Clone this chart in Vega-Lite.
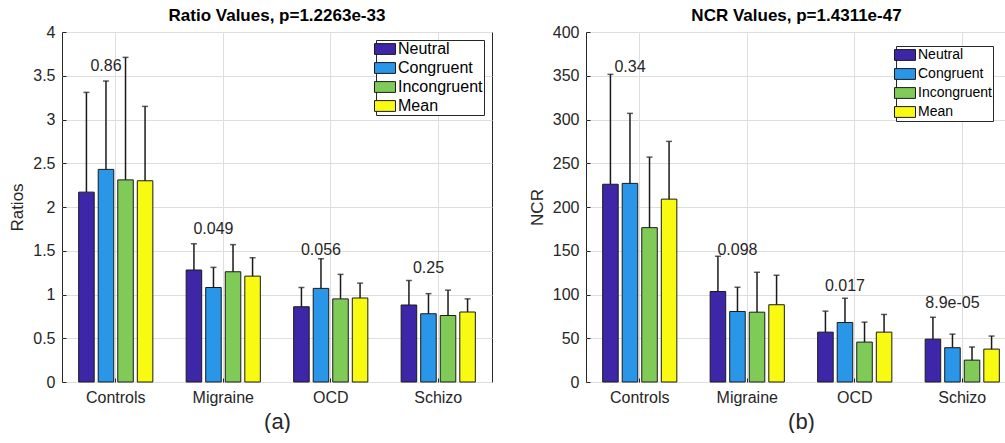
{
  "$schema": "https://vega.github.io/schema/vega-lite/v6.json",
  "padding": {"left": 8, "top": 6, "right": 0, "bottom": 0},
  "spacing": 34,
  "config": {
    "font": "Liberation Sans",
    "view": {"stroke": "#262626", "strokeWidth": 1},
    "axis": {
      "labelFontSize": 16,
      "labelColor": "#262626",
      "titleFontSize": 17,
      "titleFontWeight": "normal",
      "titleColor": "#262626",
      "gridColor": "#dedede",
      "gridWidth": 1,
      "domain": false,
      "tickColor": "#262626",
      "tickSize": -4,
      "labelPadding": 11
    },
    "title": {"fontSize": 17, "fontWeight": "bold", "color": "#000000", "offset": -1, "anchor": "middle", "frame": "group"},
    "legend": {
      "orient": "top-right",
      "title": null,
      "fillColor": "#ffffff",
      "strokeColor": "#262626",
      "padding": 1,
      "labelFontSize": 16,
      "labelColor": "#000000",
      "labelOffset": 5,
      "rowPadding": 3,
      "symbolType": "M-1.4,-0.72H1.4V0.72H-1.4Z",
      "symbolSize": 225,
      "symbolStrokeColor": "#1a1a1a",
      "symbolStrokeWidth": 1,
      "symbolOpacity": 1
    }
  },
  "resolve": {"scale": {"color": "independent", "x": "independent", "y": "independent", "xOffset": "independent"}, "legend": {"color": "independent"}},
  "datasets": {
    "ratio": [
      {"group": "Controls", "cond": "Neutral", "value": 2.17, "upper": 3.31},
      {"group": "Controls", "cond": "Congruent", "value": 2.43, "upper": 3.44},
      {"group": "Controls", "cond": "Incongruent", "value": 2.31, "upper": 3.71},
      {"group": "Controls", "cond": "Mean", "value": 2.3, "upper": 3.15},
      {"group": "Migraine", "cond": "Neutral", "value": 1.28, "upper": 1.58},
      {"group": "Migraine", "cond": "Congruent", "value": 1.08, "upper": 1.31},
      {"group": "Migraine", "cond": "Incongruent", "value": 1.26, "upper": 1.57},
      {"group": "Migraine", "cond": "Mean", "value": 1.21, "upper": 1.42},
      {"group": "OCD", "cond": "Neutral", "value": 0.86, "upper": 1.08},
      {"group": "OCD", "cond": "Congruent", "value": 1.07, "upper": 1.41},
      {"group": "OCD", "cond": "Incongruent", "value": 0.95, "upper": 1.23},
      {"group": "OCD", "cond": "Mean", "value": 0.96, "upper": 1.13},
      {"group": "Schizo", "cond": "Neutral", "value": 0.88, "upper": 1.16},
      {"group": "Schizo", "cond": "Congruent", "value": 0.78, "upper": 1.01},
      {"group": "Schizo", "cond": "Incongruent", "value": 0.76, "upper": 1.05},
      {"group": "Schizo", "cond": "Mean", "value": 0.8, "upper": 0.95}
    ],
    "ratioP": [
      {"group": "Controls", "p": "0.86", "ypos": 3.61},
      {"group": "Migraine", "p": "0.049", "ypos": 1.75},
      {"group": "OCD", "p": "0.056", "ypos": 1.51},
      {"group": "Schizo", "p": "0.25", "ypos": 1.3}
    ],
    "ncr": [
      {"group": "Controls", "cond": "Neutral", "value": 226, "upper": 351.6},
      {"group": "Controls", "cond": "Congruent", "value": 227, "upper": 307},
      {"group": "Controls", "cond": "Incongruent", "value": 176.4, "upper": 257},
      {"group": "Controls", "cond": "Mean", "value": 209, "upper": 275},
      {"group": "Migraine", "cond": "Neutral", "value": 103.4, "upper": 143.7},
      {"group": "Migraine", "cond": "Congruent", "value": 80.6, "upper": 108.3},
      {"group": "Migraine", "cond": "Incongruent", "value": 79.8, "upper": 125.4},
      {"group": "Migraine", "cond": "Mean", "value": 88.3, "upper": 122},
      {"group": "OCD", "cond": "Neutral", "value": 57, "upper": 81},
      {"group": "OCD", "cond": "Congruent", "value": 68, "upper": 95.8},
      {"group": "OCD", "cond": "Incongruent", "value": 45.6, "upper": 68.4},
      {"group": "OCD", "cond": "Mean", "value": 57, "upper": 77.2},
      {"group": "Schizo", "cond": "Neutral", "value": 49, "upper": 74},
      {"group": "Schizo", "cond": "Congruent", "value": 39.2, "upper": 54.7},
      {"group": "Schizo", "cond": "Incongruent", "value": 25, "upper": 40},
      {"group": "Schizo", "cond": "Mean", "value": 37.6, "upper": 52.5}
    ],
    "ncrP": [
      {"group": "Controls", "p": "0.34", "ypos": 360},
      {"group": "Migraine", "p": "0.098", "ypos": 150.5},
      {"group": "OCD", "p": "0.017", "ypos": 110},
      {"group": "Schizo", "p": "8.9e-05", "ypos": 90.5}
    ]
  },
  "hconcat": [
    {
      "width": 430,
      "height": 350,
      "title": {"text": "Ratio Values, p=1.2263e-33"},
      "encoding": {
        "x": {"field": "group", "type": "nominal", "sort": ["Controls", "Migraine", "OCD", "Schizo"],
              "scale": {"paddingInner": 0.31, "paddingOuter": 0.155},
              "axis": {"title": "(a)", "titleFontSize": 22, "titlePadding": 6, "labelAngle": 0, "grid": true, "bandPosition": 0.5, "labelPadding": 11}}
      },
      "layer": [
        {
          "data": {"name": "ratio"},
          "mark": {"type": "bar", "stroke": "#1a1a1a", "strokeWidth": 1},
          "encoding": {
            "xOffset": {"field": "cond", "type": "nominal", "sort": ["Neutral", "Congruent", "Incongruent", "Mean"], "scale": {"paddingInner": 0.205, "paddingOuter": 0}},
            "y": {"field": "value", "type": "quantitative", "scale": {"domain": [0, 4], "nice": false},
                  "axis": {"title": "Ratios", "values": [0, 0.5, 1, 1.5, 2, 2.5, 3, 3.5, 4], "format": "~g", "titlePadding": 6}},
            "color": {"field": "cond", "type": "nominal", "sort": ["Neutral", "Congruent", "Incongruent", "Mean"],
                      "scale": {"domain": ["Neutral", "Congruent", "Incongruent", "Mean"], "range": ["#3e26a8", "#2996e8", "#80cb58", "#f9fa12"]},
                      "legend": {"offset": 8}}
          }
        },
        {
          "data": {"name": "ratio"},
          "mark": {"type": "rule", "color": "#1a1a1a", "strokeWidth": 1.5},
          "encoding": {
            "xOffset": {"field": "cond", "type": "nominal", "sort": ["Neutral", "Congruent", "Incongruent", "Mean"]},
            "y": {"field": "value", "type": "quantitative"},
            "y2": {"field": "upper"}
          }
        },
        {
          "data": {"name": "ratio"},
          "mark": {"type": "tick", "color": "#1a1a1a", "thickness": 1.5, "size": 6},
          "encoding": {
            "xOffset": {"field": "cond", "type": "nominal", "sort": ["Neutral", "Congruent", "Incongruent", "Mean"]},
            "y": {"field": "upper", "type": "quantitative"}
          }
        },
        {
          "data": {"name": "ratioP"},
          "mark": {"type": "text", "fontSize": 16, "color": "#262626", "baseline": "middle"},
          "encoding": {
            "xOffset": {"datum": "Congruent"},
            "y": {"field": "ypos", "type": "quantitative"},
            "text": {"field": "p"}
          }
        }
      ]
    },
    {
      "width": 421,
      "height": 350,
      "title": {"text": "NCR Values, p=1.4311e-47"},
      "encoding": {
        "x": {"field": "group", "type": "nominal", "sort": ["Controls", "Migraine", "OCD", "Schizo"],
              "scale": {"paddingInner": 0.31, "paddingOuter": 0.155, "range": [0, 430]},
              "axis": {"title": "(b)", "titleFontSize": 22, "titlePadding": 6, "labelAngle": 0, "grid": true, "bandPosition": 0.5, "labelPadding": 11}}
      },
      "layer": [
        {
          "data": {"name": "ncr"},
          "mark": {"type": "bar", "stroke": "#1a1a1a", "strokeWidth": 1},
          "encoding": {
            "xOffset": {"field": "cond", "type": "nominal", "sort": ["Neutral", "Congruent", "Incongruent", "Mean"], "scale": {"paddingInner": 0.205, "paddingOuter": 0}},
            "y": {"field": "value", "type": "quantitative", "scale": {"domain": [0, 400], "nice": false},
                  "axis": {"title": "NCR", "values": [0, 50, 100, 150, 200, 250, 300, 350, 400], "titlePadding": 6}},
            "color": {"field": "cond", "type": "nominal", "sort": ["Neutral", "Congruent", "Incongruent", "Mean"],
                      "scale": {"domain": ["Neutral", "Congruent", "Incongruent", "Mean"], "range": ["#3e26a8", "#2996e8", "#80cb58", "#f9fa12"]},
                      "legend": {"offset": 14, "labelFontSize": 14}}
          }
        },
        {
          "data": {"name": "ncr"},
          "mark": {"type": "rule", "color": "#1a1a1a", "strokeWidth": 1.5},
          "encoding": {
            "xOffset": {"field": "cond", "type": "nominal", "sort": ["Neutral", "Congruent", "Incongruent", "Mean"]},
            "y": {"field": "value", "type": "quantitative"},
            "y2": {"field": "upper"}
          }
        },
        {
          "data": {"name": "ncr"},
          "mark": {"type": "tick", "color": "#1a1a1a", "thickness": 1.5, "size": 6},
          "encoding": {
            "xOffset": {"field": "cond", "type": "nominal", "sort": ["Neutral", "Congruent", "Incongruent", "Mean"]},
            "y": {"field": "upper", "type": "quantitative"}
          }
        },
        {
          "data": {"name": "ncrP"},
          "mark": {"type": "text", "fontSize": 16, "color": "#262626", "baseline": "middle"},
          "encoding": {
            "xOffset": {"datum": "Congruent"},
            "y": {"field": "ypos", "type": "quantitative"},
            "text": {"field": "p"}
          }
        }
      ]
    }
  ]
}
